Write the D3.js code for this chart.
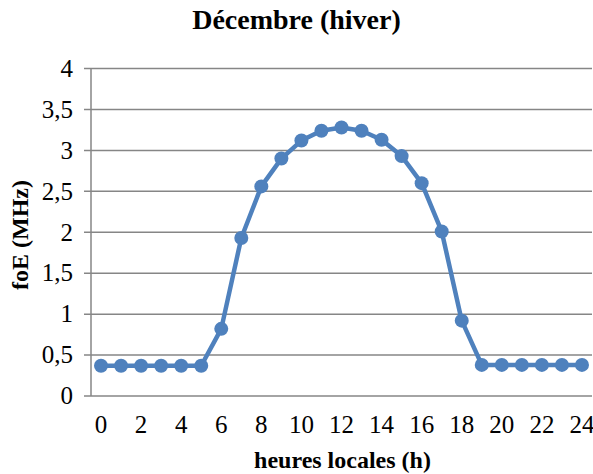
<!DOCTYPE html>
<html><head><meta charset="utf-8">
<script src="https://cdn.jsdelivr.net/npm/d3@7"></script>
<style>body{margin:0;background:#fff}svg{display:block}</style>
</head><body>
<script>
const hours = [0,1,2,3,4,5,6,7,8,9,10,11,12,13,14,15,16,17,18,19,20,21,22,23,24];
const foE = [0.37,0.37,0.37,0.37,0.37,0.37,0.82,1.93,2.56,2.90,3.12,3.24,3.28,3.24,3.13,2.93,2.60,2.01,0.92,0.38,0.38,0.38,0.38,0.38,0.38];
const yTicks = [0,0.5,1,1.5,2,2.5,3,3.5,4];
const xTickLabels = [0,2,4,6,8,10,12,14,16,18,20,22,24];
const title = "Décembre (hiver)";
const xTitle = "heures locales (h)";
const yTitle = "foE (MHz)";

const FONT = '"Liberation Serif"';
const W=593,H=474;
const L=91,R=592,T=68.5,B=396;
const svg=d3.select("body").append("svg").attr("width",W).attr("height",H);
const x=d3.scalePoint().domain(hours).range([L,R]).padding(0.5);
const y=d3.scaleLinear().domain([0,4]).range([B,T]);
const fmt=v=>String(v).replace(".",",");

svg.append("g").selectAll("line").data(yTicks).join("line")
  .attr("x1",L-7).attr("x2",R).attr("y1",d=>y(d)).attr("y2",d=>y(d))
  .attr("stroke","#868686").attr("stroke-width",1.5);
svg.append("line").attr("x1",L).attr("x2",L).attr("y1",T).attr("y2",B)
  .attr("stroke","#868686").attr("stroke-width",1.5);
svg.append("g").selectAll("text").data(yTicks).join("text")
  .attr("x",73).attr("y",d=>y(d)).attr("dy","0.33em").attr("text-anchor","end")
  .style("font-family",FONT).style("font-size","25px").attr("fill","#000").text(fmt);
svg.append("g").selectAll("text").data(xTickLabels).join("text")
  .attr("x",d=>x(d)).attr("y",433).attr("text-anchor","middle")
  .style("font-family",FONT).style("font-size","25px").attr("fill","#000").text(d=>d);

svg.append("path").datum(hours.map((h,i)=>[h,foE[i]]))
  .attr("d",d3.line().x(d=>x(d[0])).y(d=>y(d[1])))
  .attr("fill","none").attr("stroke","#4F81BD").attr("stroke-width",4.5).attr("stroke-linejoin","round");
svg.append("g").selectAll("circle").data(hours.map((h,i)=>[h,foE[i]])).join("circle")
  .attr("cx",d=>x(d[0])).attr("cy",d=>y(d[1])).attr("r",7).attr("fill","#4F81BD");

svg.append("text").attr("x",296.5).attr("y",29).attr("text-anchor","middle")
  .style("font-family",FONT).style("font-size","28px").style("font-weight","bold").text(title);
svg.append("text").attr("x",342.5).attr("y",468).attr("text-anchor","middle")
  .style("font-family",FONT).style("font-size","24px").style("font-weight","bold").text(xTitle);
svg.append("text").attr("transform","translate(28,235) rotate(-90)").attr("text-anchor","middle")
  .style("font-family",FONT).style("font-size","24px").style("font-weight","bold").text(yTitle);
</script>
</body></html>
